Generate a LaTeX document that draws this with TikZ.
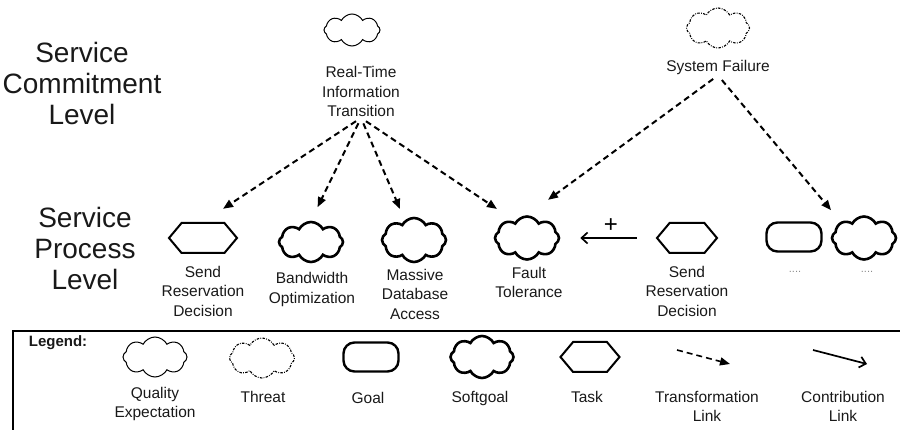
\documentclass[tikz,border=0pt]{standalone}
\usepackage{fontspec}
\setmainfont{Liberation Sans}
\usetikzlibrary{shapes.symbols,shapes.geometric,arrows.meta}

\begin{document}
\begin{tikzpicture}[x=1pt,y=-1pt,
  lbl/.style={align=center, font=\fontsize{15.5}{19.5}\selectfont, inner sep=1pt, text=black!90},
  lvl/.style={align=center, font=\fontsize{28}{31}\selectfont, text=black!90},
  dots/.style={font=\fontsize{11}{11}\selectfont, text=black!45, inner sep=1pt},
  softgoal/.style={cloud, cloud puffs=8, cloud puff arc=125, cloud ignores aspect, draw, line width=2.6pt,
                   minimum width=64pt, minimum height=42pt, inner sep=0pt},
  quality/.style={softgoal, line width=1pt},
  threat/.style={softgoal, line width=1.1pt, dash pattern=on 2.5pt off 1.3pt on 0.8pt off 1.3pt},
  task/.style={signal, signal to=east and west, signal pointer angle=100, draw, line width=2pt,
               minimum width=62pt, minimum height=30pt, inner sep=0pt},
  goal/.style={rectangle, rounded corners=11pt, draw, line width=2.4pt,
               minimum width=55pt, minimum height=29pt, inner sep=0pt},
  tlink/.style={line width=2pt, dash pattern=on 6pt off 4pt, -{Triangle[length=10pt,width=8pt]}},
  clink/.style={line width=1.7pt, -{Straight Barb[length=6pt,width=11pt]}},
]
\useasboundingbox (0,0) rectangle (900,430);

% level captions
\node[lvl] (lvlC) at (82,83) {Service\\Commitment\\Level};
\node[lvl] (lvlP) at (85,248) {Service\\Process\\Level};

% service commitment level
\node[quality, minimum width=56pt, minimum height=32pt] (rt) at (352,30) {};
\node[lbl] (rtl) at (361,91.5) {Real-Time\\Information\\Transition};
\node[threat, minimum width=63pt, minimum height=40pt] (sf) at (718,28) {};
\node[lbl] (sfl) at (718,67) {System Failure};

% service process level
\node[task, minimum width=68pt] (sr1) at (203,238) {};
\node[lbl] (sr1l) at (203,291) {Send\\Reservation\\Decision};
\node[softgoal, minimum height=40pt] (bw) at (311,242) {};
\node[lbl] (bwl) at (312,289.5) {Bandwidth\\Optimization};
\node[softgoal, minimum height=44pt] (mda) at (414,240) {};
\node[lbl] (mdal) at (415,294) {Massive\\Database\\Access};
\node[softgoal, minimum height=43pt] (ft) at (527,238) {};
\node[lbl] (ftl) at (529,282.5) {Fault\\Tolerance};
\node[task, minimum width=60pt] (sr2) at (687,238) {};
\node[lbl] (sr2l) at (687,291) {Send\\Reservation\\Decision};
\node[goal] (g1) at (794,237) {};
\node[dots] (g1l) at (795,272) {....};
\node[softgoal, minimum height=43pt] (sg2) at (864,238) {};
\node[dots] (sg2l) at (867,272) {....};

% transformation links
\draw[tlink, shorten <=6pt, shorten >=24pt] (rtl.south) -- (sr1.north);
\draw[tlink, shorten <=6pt, shorten >=15pt] (rtl.south) -- (bw.north);
\draw[tlink, shorten <=6pt, shorten >=12pt] (rtl.south) -- (mda.115);
\draw[tlink, shorten <=6pt, shorten >=22pt] (rtl.south) -- (ft.125);
\draw[tlink, shorten <=6pt, shorten >=26pt] (sfl.south) -- (ft.north);
\draw[tlink, shorten <=6pt, shorten >=15pt] (sfl.south) -- (sg2.145);

% contribution link
\draw[clink, shorten <=19pt, shorten >=20pt] (sr2.west) -- (ft.east);
\node[font=\fontsize{24}{24}\selectfont, inner sep=0pt] (plus) at (611,226) {+};

% legend
\draw[line width=2pt] (13,440) -- (13,331) -- (910,331);
\node[font=\bfseries\fontsize{15}{18}\selectfont, text=black!90] (leg) at (58,343) {Legend:};

\node[quality, minimum width=64pt, minimum height=40pt] (lq) at (155,357) {};
\node[lbl] (lql) at (155,404) {Quality\\Expectation};
\node[threat, minimum width=65pt, minimum height=40pt] (lt) at (262,358) {};
\node[lbl] (ltl) at (263,397) {Threat};
\node[goal] (lg) at (371,357) {};
\node[lbl] (lgl) at (368,398) {Goal};
\node[softgoal, minimum width=63pt] (ls) at (482,357) {};
\node[lbl] (lsl) at (480,398) {Softgoal};
\node[task, minimum width=59pt] (lk) at (590,357) {};
\node[lbl] (lkl) at (587,397) {Task};
\coordinate (ltA) at (677,350);
\coordinate (ltB) at (730,364);
\draw[tlink, line width=1.6pt] (ltA) -- (ltB);
\node[lbl] (ltrl) at (707,406.5) {Transformation\\Link};
\coordinate (lcA) at (813,350);
\coordinate (lcB) at (867,364);
\draw[clink] (lcA) -- (lcB);
\node[lbl] (lcl) at (843,406.5) {Contribution\\Link};
\end{tikzpicture}
\end{document}
